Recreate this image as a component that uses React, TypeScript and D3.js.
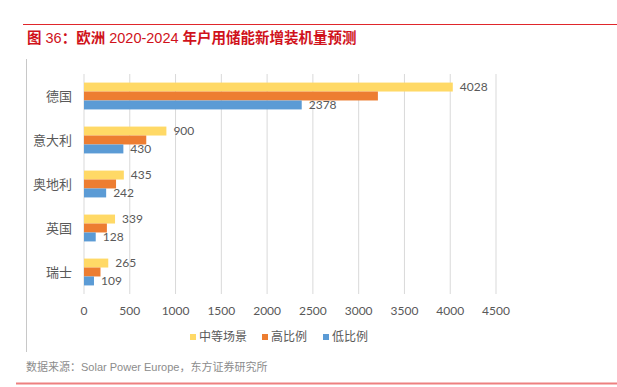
import React from 'react';
import * as d3 from 'd3';

const categories = ['德国', '意大利', '奥地利', '英国', '瑞士'];
const seriesNames = ['中等场景', '高比例', '低比例'];
const midValues = [4028, 900, 435, 339, 265];
const highValues = [3210, 680, 350, 250, 180];
const lowValues = [2378, 430, 242, 128, 109];
const xTicks = [0, 500, 1000, 1500, 2000, 2500, 3000, 3500, 4000, 4500];

const colors = ['#FFD966', '#ED7D31', '#5B9BD5'];
const labelled = [true, false, true];

const W = 617;
const H = 387;
const plot = { left: 84, right: 496, top: 74, bottom: 294 };
const numFont = 'Lato, "Noto Sans CJK SC", sans-serif';
const cjkFont = '"Noto Sans CJK SC", sans-serif';
const latinFont = '"Liberation Sans", "Noto Sans CJK SC", sans-serif';

const App = (): React.ReactElement => {
  const series = [midValues, highValues, lowValues];
  const x = d3.scaleLinear().domain([0, 4500]).range([plot.left, plot.right]);
  const y = d3.scaleBand<string>().domain(categories).range([plot.top, plot.bottom]).paddingInner(0.39).paddingOuter(0.195);
  const inner = d3.scaleBand<number>().domain([0, 1, 2]).range([0, y.bandwidth()]);

  return (
    <svg width={W} height={H} style={{ position: 'absolute', left: 0, top: 0, background: '#fff' }}>
      <line x1={23} x2={W} y1={24.5} y2={24.5} stroke="#E0262B" strokeWidth={1.2} />
      <text x={27} y={43} fill="#D0121B" fontSize={14.5} fontFamily={cjkFont} fontWeight="bold">
        图<tspan fontFamily={latinFont} fontWeight="normal"> 36</tspan>：欧洲
        <tspan fontFamily={latinFont} fontWeight="normal"> 2020-2024 </tspan>年户用储能新增装机量预测
      </text>
      <line x1={26.5} x2={26.5} y1={59} y2={352} stroke="#C8C8C8" />

      {xTicks.map((t) => (
        <g key={t}>
          <line x1={x(t)} x2={x(t)} y1={plot.top} y2={plot.bottom} stroke="#D9D9D9" />
          <text x={x(t)} y={315} textAnchor="middle" fontFamily={numFont} fontSize={12} fill="#595959">
            {t}
          </text>
        </g>
      ))}

      {categories.map((c, i) => (
        <g key={c}>
          <text
            x={72}
            y={(y(c) ?? 0) + y.bandwidth() / 2}
            dy="0.35em"
            textAnchor="end"
            fontFamily={cjkFont}
            fontSize={13}
            fill="#595959"
          >
            {c}
          </text>
          {series.map((vals, s) => {
            const yy = (y(c) ?? 0) + (inner(s) ?? 0);
            return (
              <g key={s}>
                <rect x={x(0)} y={yy} width={x(vals[i]) - x(0)} height={inner.bandwidth()} fill={colors[s]} />
                {labelled[s] && (
                  <text
                    x={x(vals[i]) + 7}
                    y={yy + inner.bandwidth() / 2}
                    dy="0.35em"
                    fontFamily={numFont}
                    fontSize={12}
                    fill="#595959"
                  >
                    {vals[i]}
                  </text>
                )}
              </g>
            );
          })}
        </g>
      ))}

      {seriesNames.map((n, s) => {
        const lx = [190, 262, 323][s];
        return (
          <g key={n}>
            <rect x={lx} y={334} width={6} height={6} fill={colors[s]} />
            <text x={lx + 9} y={337} dy="0.35em" fontFamily={cjkFont} fontSize={12} fill="#595959">
              {n}
            </text>
          </g>
        );
      })}

      <text x={26} y={370.5} fontFamily={latinFont} fontSize={11} fill="#8C8C8C">
        数据来源：Solar Power Europe，东方证券研究所
      </text>
      <line x1={16} x2={W} y1={383.5} y2={383.5} stroke="#EE8080" strokeWidth={2} />
    </svg>
  );
};

export default App;
